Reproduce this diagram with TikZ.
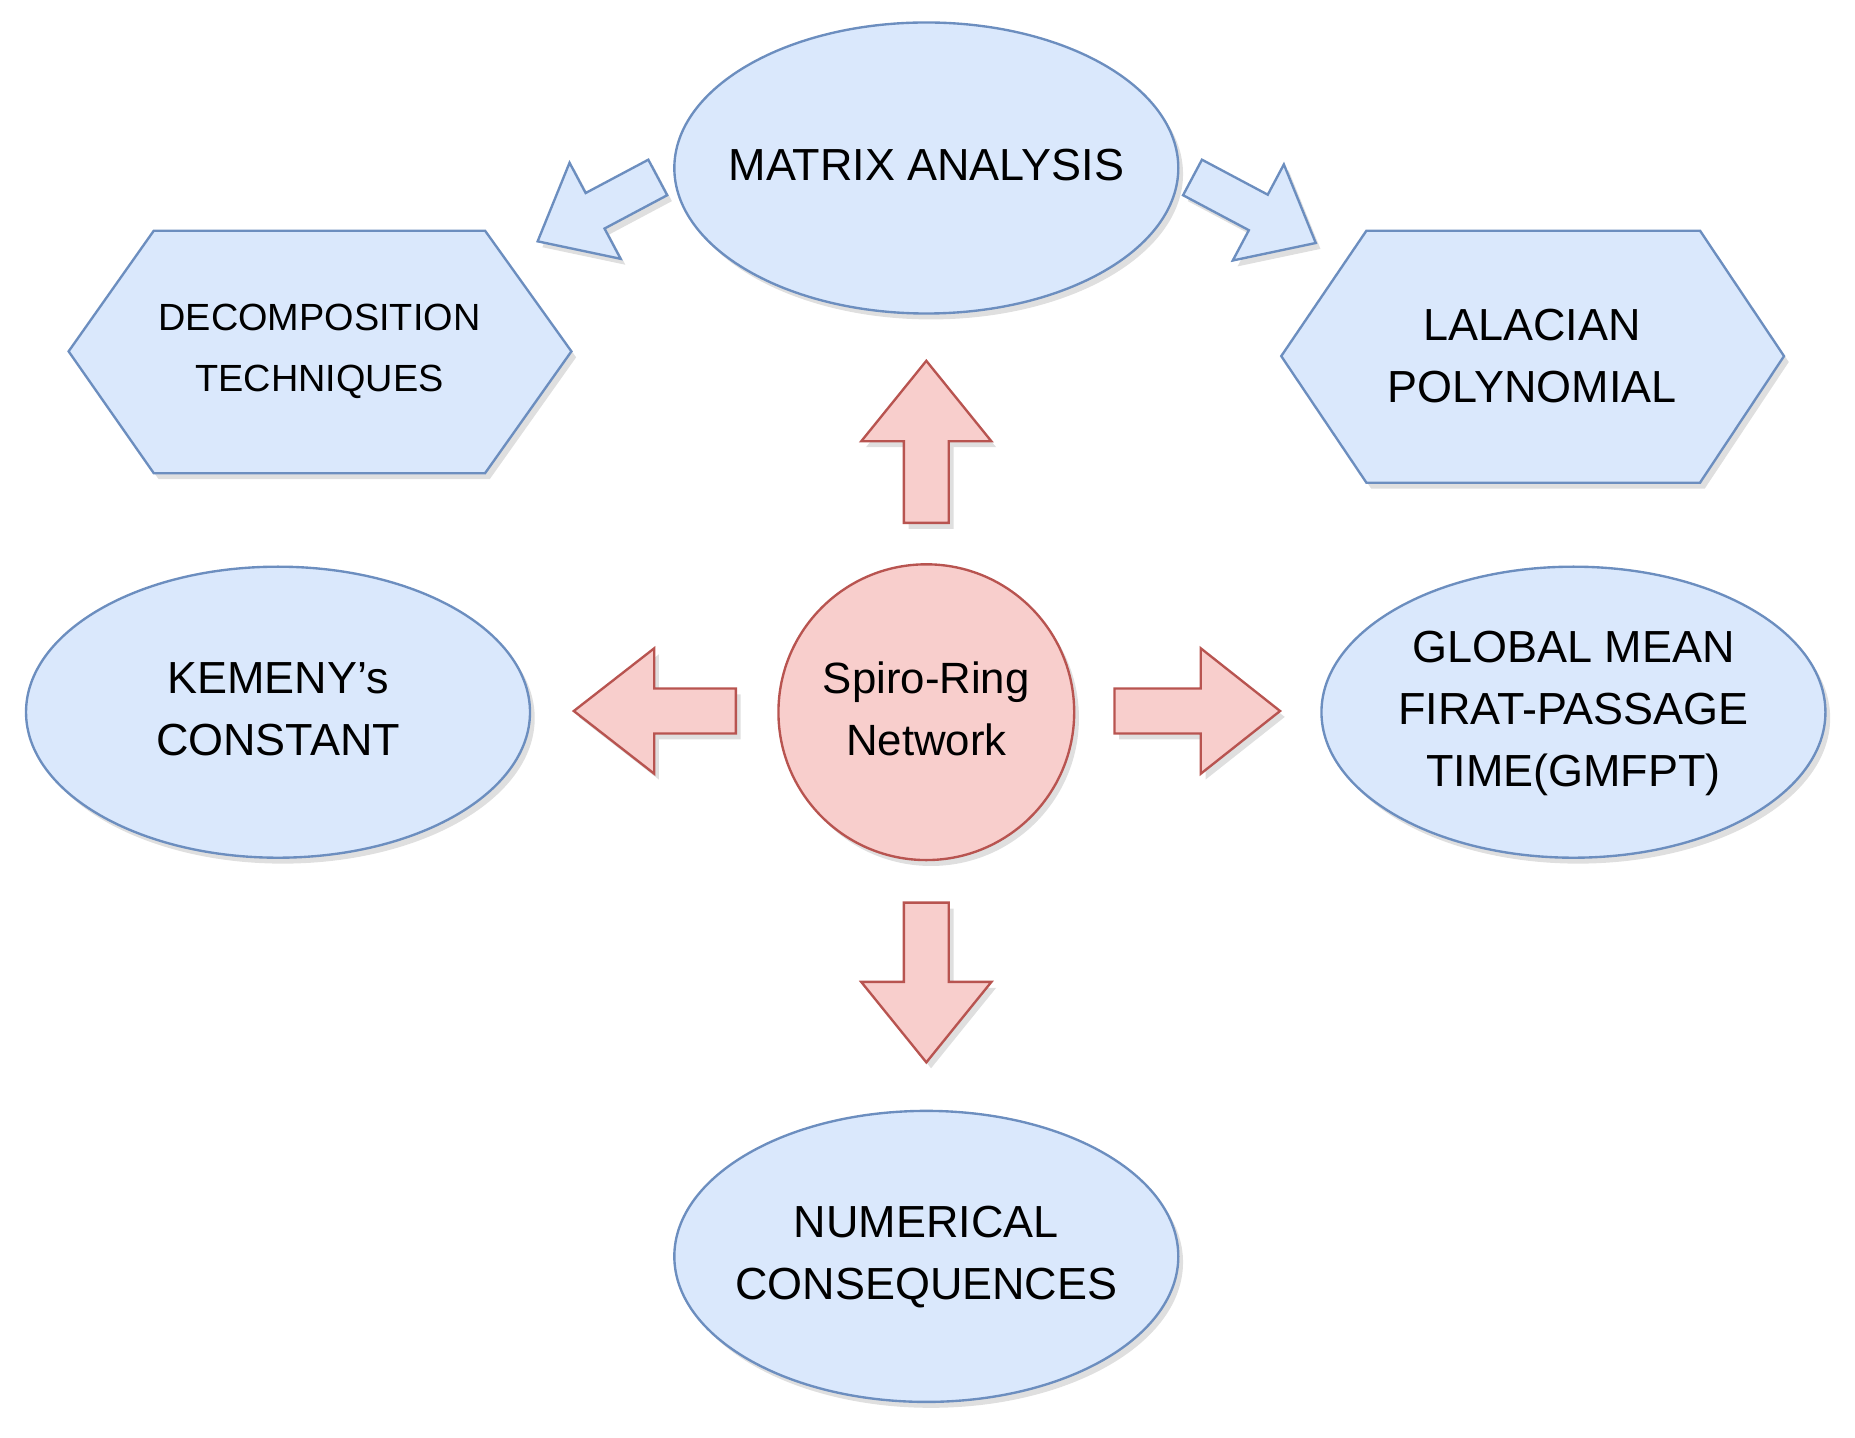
\documentclass[tikz,border=0pt]{standalone}
\usepackage{fontspec}
\setmainfont{Liberation Sans}
\usetikzlibrary{shapes.geometric,shadows}
\definecolor{bfill}{HTML}{DAE8FC}\definecolor{bline}{HTML}{6C8EBF}
\definecolor{rfill}{HTML}{F8CECC}\definecolor{rline}{HTML}{B85450}
\newcommand\fitx[1]{\makebox[0pt]{\begin{tabular}{@{}c@{}}#1\end{tabular}}}
\tikzset{
 sh/.style={drop shadow={shadow xshift=4pt,shadow yshift=-5pt,opacity=0.25}},
 blue/.style={fill=bfill,draw=bline,line width=2pt,sh},
 red/.style={fill=rfill,draw=rline,line width=2pt,sh},
 ell/.style={blue,ellipse,inner sep=0,minimum width=426pt,minimum height=246pt,font=\fontsize{38}{52}\selectfont},
 lbl/.style={align=center},
}
% fat arrow: tail at origin pointing +x
\newcommand\fatarrow[5][red]{\draw[#1] (0,-#3) -- (#2-#5,-#3) -- (#2-#5,-#4) -- (#2,0) -- (#2-#5,#4) -- (#2-#5,#3) -- (0,#3) -- cycle;}
\begin{document}
\begin{tikzpicture}[x=1pt,y=-1pt]
\useasboundingbox (0,0) rectangle (1568,1215);
\node[ell] (matrix) at (783,142) {\fitx{MATRIX ANALYSIS}};
\node[ell] (kemeny) at (235,602) {\fitx{KEMENY's\\CONSTANT}};
\node[ell] (gmfpt) at (1330,602) {\fitx{GLOBAL MEAN\\FIRAT-PASSAGE\\TIME(GMFPT)}};
\node[ell] (num) at (783,1062) {\fitx{NUMERICAL\\CONSEQUENCES}};
\node[red,circle,inner sep=0,minimum size=250pt,font=\fontsize{37}{52}\selectfont] (spiro) at (783,602) {\fitx{Spiro-Ring\\Network}};
\draw[blue] (58,297) -- (130,195) -- (410,195) -- (483,297) -- (410,400) -- (130,400) -- cycle;
\node[lbl,font=\fontsize{32}{52}\selectfont] (decomp) at (270,297) {DECOMPOSITION\\TECHNIQUES};
\draw[blue] (1083,301) -- (1155,195) -- (1437,195) -- (1508,301) -- (1437,408) -- (1155,408) -- cycle;
\node[lbl,font=\fontsize{38}{52}\selectfont] (lap) at (1295,301) {LALACIAN\\POLYNOMIAL};
\begin{scope}[shift={(783,442)},rotate=90]\fatarrow{137}{19}{55}{68}\end{scope}
\begin{scope}[shift={(622,601)},rotate=180]\fatarrow{137}{19}{53}{68}\end{scope}
\begin{scope}[shift={(942,601)}]\fatarrow{140}{19}{53}{67}\end{scope}
\begin{scope}[shift={(783,763)},rotate=-90]\fatarrow{135}{19}{55}{68}\end{scope}
\begin{scope}[shift={(556,150)},rotate=-152]\fatarrow[blue]{115}{17}{46}{55}\end{scope}
\begin{scope}[shift={(1008,150)},rotate=-28]\fatarrow[blue]{118}{17}{46}{55}\end{scope}
\end{tikzpicture}
\end{document}
